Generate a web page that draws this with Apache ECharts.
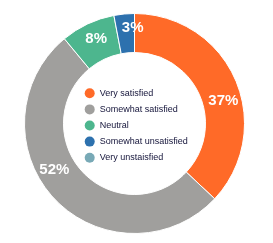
<!DOCTYPE html>
<html>
<head>
<meta charset="utf-8">
<script src="https://cdn.jsdelivr.net/npm/echarts@6/dist/echarts.min.js"></script>
<style>html,body{margin:0;padding:0;background:#fff;}#chart{width:273px;height:243px;}</style>
</head>
<body>
<div id="chart"></div>
<script>
const categories = ['Very satisfied', 'Somewhat satisfied', 'Neutral', 'Somewhat unsatisfied', 'Very unstaisfied'];
const values = [37, 52, 8, 3, 0];
const colors = ['#FF6A28', '#A09F9D', '#4DB68E', '#2D71AE', '#78A9B6'];

// small label nudges (px) to match the reference placement
const labelNudge = [[3, 14.5], [-12, -18], [1.5, 0], [7, -2.5], [0, 0]];

const chart = echarts.init(document.getElementById('chart'), null, {renderer: 'canvas'});
chart.setOption({
  animation: false,
  color: colors,
  legend: {
    orient: 'vertical',
    left: 84.7,
    top: 88.3,
    padding: 0,
    icon: 'path://M5,0A5,5,0,1,1,5,10A5,5,0,1,1,5,0Z',
    itemWidth: 10,
    itemHeight: 10,
    itemGap: 6.1,
    itemStyle: { borderWidth: 0 },
    textStyle: { fontFamily: 'Liberation Sans, Arial, sans-serif', fontSize: 9, color: '#14143a' },
    data: categories
  },
  series: [{
    type: 'pie',
    center: [134.5, 123.5],
    radius: [71, 110],
    startAngle: 90,
    clockwise: true,
    itemStyle: { borderColor: '#fff', borderWidth: 1 },
    label: {
      show: true,
      position: 'inside',
      color: '#fff',
      fontFamily: 'Liberation Sans, Arial, sans-serif',
      fontWeight: 'bold',
      fontSize: 15,
      formatter: p => p.value > 0 ? Math.round(p.percent) + '%' : ''
    },
    labelLayout: p => ({ dx: labelNudge[p.dataIndex][0], dy: labelNudge[p.dataIndex][1] }),
    labelLine: { show: false },
    emphasis: { disabled: true },
    data: categories.map((c, i) => ({ name: c, value: values[i] }))
  }]
});
</script>
</body>
</html>
